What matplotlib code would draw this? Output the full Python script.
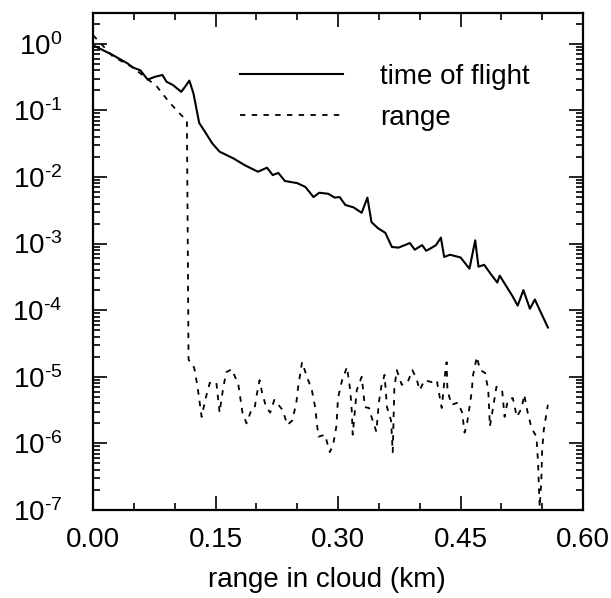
import matplotlib
matplotlib.use("Agg")
import matplotlib.pyplot as plt
from matplotlib.ticker import LogLocator, FixedLocator, FuncFormatter, FixedFormatter
import numpy as np

plt.rcParams['font.family'] = ['Liberation Sans', 'DejaVu Sans']
plt.rcParams['mathtext.fontset'] = 'custom'
plt.rcParams['mathtext.rm'] = 'Liberation Sans'
plt.rcParams['mathtext.it'] = 'Liberation Sans:italic'
plt.rcParams['mathtext.bf'] = 'Liberation Sans:bold'

# time of flight (solid)
tof_x = [0.000, 0.024, 0.042, 0.049, 0.058, 0.067, 0.076, 0.085, 0.090, 0.098,
         0.108, 0.112, 0.118, 0.123, 0.130, 0.137, 0.146, 0.155, 0.172, 0.186,
         0.202, 0.213, 0.220, 0.227, 0.235, 0.250, 0.260, 0.270, 0.277, 0.288,
         0.296, 0.302, 0.309, 0.319, 0.329, 0.336, 0.341, 0.349, 0.358, 0.366,
         0.374, 0.382, 0.388, 0.394, 0.403, 0.408, 0.415, 0.420, 0.426, 0.430,
         0.437, 0.450, 0.461, 0.468, 0.472, 0.479, 0.487, 0.495, 0.498, 0.507,
         0.514, 0.520, 0.527, 0.535, 0.541, 0.557]
tof_y = [0.95, 0.68, 0.51, 0.44, 0.40, 0.29, 0.32, 0.34, 0.27, 0.24,
         0.19, 0.22, 0.28, 0.18, 0.065, 0.048, 0.032, 0.024, 0.019, 0.015,
         0.012, 0.0138, 0.0107, 0.0115, 0.0087, 0.0081, 0.0071, 0.0050, 0.0058, 0.0056,
         0.0049, 0.0050, 0.0038, 0.0035, 0.0029, 0.0049, 0.0021, 0.0017, 0.00145, 0.00089,
         0.00087, 0.00095, 0.00102, 0.00081, 0.00095, 0.00078, 0.00087, 0.00095, 0.00123, 0.00063,
         0.00068, 0.00062, 0.00042, 0.00112, 0.00045, 0.00048, 0.00035, 0.00026, 0.00033, 0.00022,
         0.00016, 0.000117, 0.00020, 0.000105, 0.000145, 0.000055]

# range (dashed)
rng_x = [0.000, 0.024, 0.049, 0.078, 0.094, 0.108, 0.115, 0.117, 0.121, 0.124,
         0.128, 0.133, 0.138, 0.143, 0.151, 0.155, 0.159, 0.163, 0.170, 0.178,
         0.183, 0.188, 0.194, 0.198, 0.200, 0.204, 0.207, 0.212, 0.217, 0.222,
         0.232, 0.238, 0.244, 0.249, 0.251, 0.256, 0.262, 0.268, 0.272, 0.276,
         0.284, 0.290, 0.294, 0.298, 0.300, 0.305, 0.311, 0.315, 0.317, 0.318,
         0.323, 0.329, 0.333, 0.338, 0.341, 0.347, 0.350, 0.353, 0.357, 0.360,
         0.365, 0.367, 0.369, 0.372, 0.378, 0.385, 0.391, 0.396, 0.400, 0.406,
         0.415, 0.421, 0.423, 0.427, 0.431, 0.433, 0.434, 0.439, 0.447, 0.452,
         0.455, 0.458, 0.461, 0.464, 0.465, 0.470, 0.474, 0.480, 0.484, 0.486,
         0.490, 0.494, 0.501, 0.504, 0.508, 0.514, 0.519, 0.525, 0.528, 0.532,
         0.537, 0.543, 0.545, 0.546, 0.547, 0.549, 0.550, 0.552, 0.557]
rng_y = [1.35, 0.65, 0.44, 0.23, 0.13, 0.085, 0.071, 1.8e-5, 1.6e-5, 1.35e-5,
         7.1e-6, 2.5e-6, 4.8e-6, 8.1e-6, 8.3e-6, 2.9e-6, 6.3e-6, 1.17e-5, 1.3e-5, 7.6e-6,
         2.9e-6, 2.0e-6, 3.2e-6, 3.4e-6, 5.0e-6, 8.9e-6, 5.8e-6, 3.5e-6, 2.9e-6, 4.5e-6,
         3.2e-6, 1.9e-6, 2.2e-6, 4.1e-6, 6.8e-6, 1.66e-5, 1.0e-5, 6.3e-6, 3.5e-6, 1.26e-6,
         1.35e-6, 7.4e-7, 9.5e-7, 1.8e-6, 4.8e-6, 8.9e-6, 1.4e-5, 6.3e-6, 2.9e-6, 1.35e-6,
         6.3e-6, 1.0e-5, 3.5e-6, 3.4e-6, 2.5e-6, 1.5e-6, 4.1e-6, 7.1e-6, 1.07e-5, 3.5e-6,
         2.2e-6, 7.4e-7, 6.8e-6, 1.26e-5, 7.6e-6, 8.1e-6, 1.26e-5, 9.5e-6, 6.3e-6, 8.9e-6,
         8.3e-6, 8.9e-6, 6.3e-6, 3.4e-6, 1.07e-5, 1.66e-5, 6.3e-6, 3.8e-6, 4.1e-6, 2.9e-6,
         1.45e-6, 2.0e-6, 3.5e-6, 6.3e-6, 1.0e-5, 2.0e-5, 1.26e-5, 1.15e-5, 6.3e-6, 1.8e-6,
         3.5e-6, 7.1e-6, 6.3e-6, 2.5e-6, 4.5e-6, 4.8e-6, 2.5e-6, 3.4e-6, 5.4e-6, 3.0e-6,
         1.7e-6, 1.26e-6, 5.1e-7, 2.2e-7, 1.1e-7, 2.8e-7, 7.9e-7, 1.6e-6, 3.8e-6]

labels = ["time of flight", "range"]
xticks = [0.00, 0.15, 0.30, 0.45, 0.60]
xticklabels = ["0.00", "0.15", "0.30", "0.45", "0.60"]
xlabel = "range in cloud (km)"

fig = plt.figure(figsize=(6.11, 5.98), dpi=100)
ax = fig.add_axes([93/611, 1-510/598, 490/611, 497/598])

ax.plot(tof_x, tof_y, color='black', lw=1.5, label=labels[0])
ax.plot(rng_x, rng_y, color='black', lw=1.3, ls=(0, (3, 3.5)), label=labels[1])

ax.set_yscale('log')
ax.set_xlim(0, 0.6)
ax.set_ylim(1e-7, 2.9)

ax.xaxis.set_major_locator(FixedLocator(xticks))
ax.xaxis.set_major_formatter(FixedFormatter(xticklabels))
ax.xaxis.set_minor_locator(FixedLocator([0.05, 0.10, 0.20, 0.25, 0.35, 0.40, 0.50, 0.55]))
ax.yaxis.set_major_locator(LogLocator(base=10, numticks=20))
ax.yaxis.set_minor_locator(LogLocator(base=10, subs=np.arange(2, 10), numticks=20))


def fmt(v, pos):
    n = int(round(np.log10(v)))
    if n < 0:
        return r'$\mathdefault{10^{\text{-}%d}}$' % (-n)
    return r'$\mathdefault{10^{%d}}$' % n


ax.yaxis.set_major_formatter(FuncFormatter(fmt))

ax.tick_params(which='both', direction='in', top=True, right=True, width=1.2)
ax.tick_params(which='major', length=10)
ax.tick_params(which='minor', length=5)
ax.tick_params(axis='x', which='major', labelsize=20, pad=12)
ax.tick_params(axis='y', which='major', labelsize=20, pad=22)
for s in ax.spines.values():
    s.set_linewidth(1.6)

ax.set_xlabel(xlabel, fontsize=20, labelpad=10)
ax.xaxis.set_label_coords(0.478, -0.115)

leg = ax.legend(loc='upper left', bbox_to_anchor=(0.30, 0.898), frameon=False,
                fontsize=20, handlelength=3.7, handletextpad=1.35,
                labelspacing=0.55, borderpad=0, borderaxespad=0)

fig.savefig("out.png", dpi=100)
